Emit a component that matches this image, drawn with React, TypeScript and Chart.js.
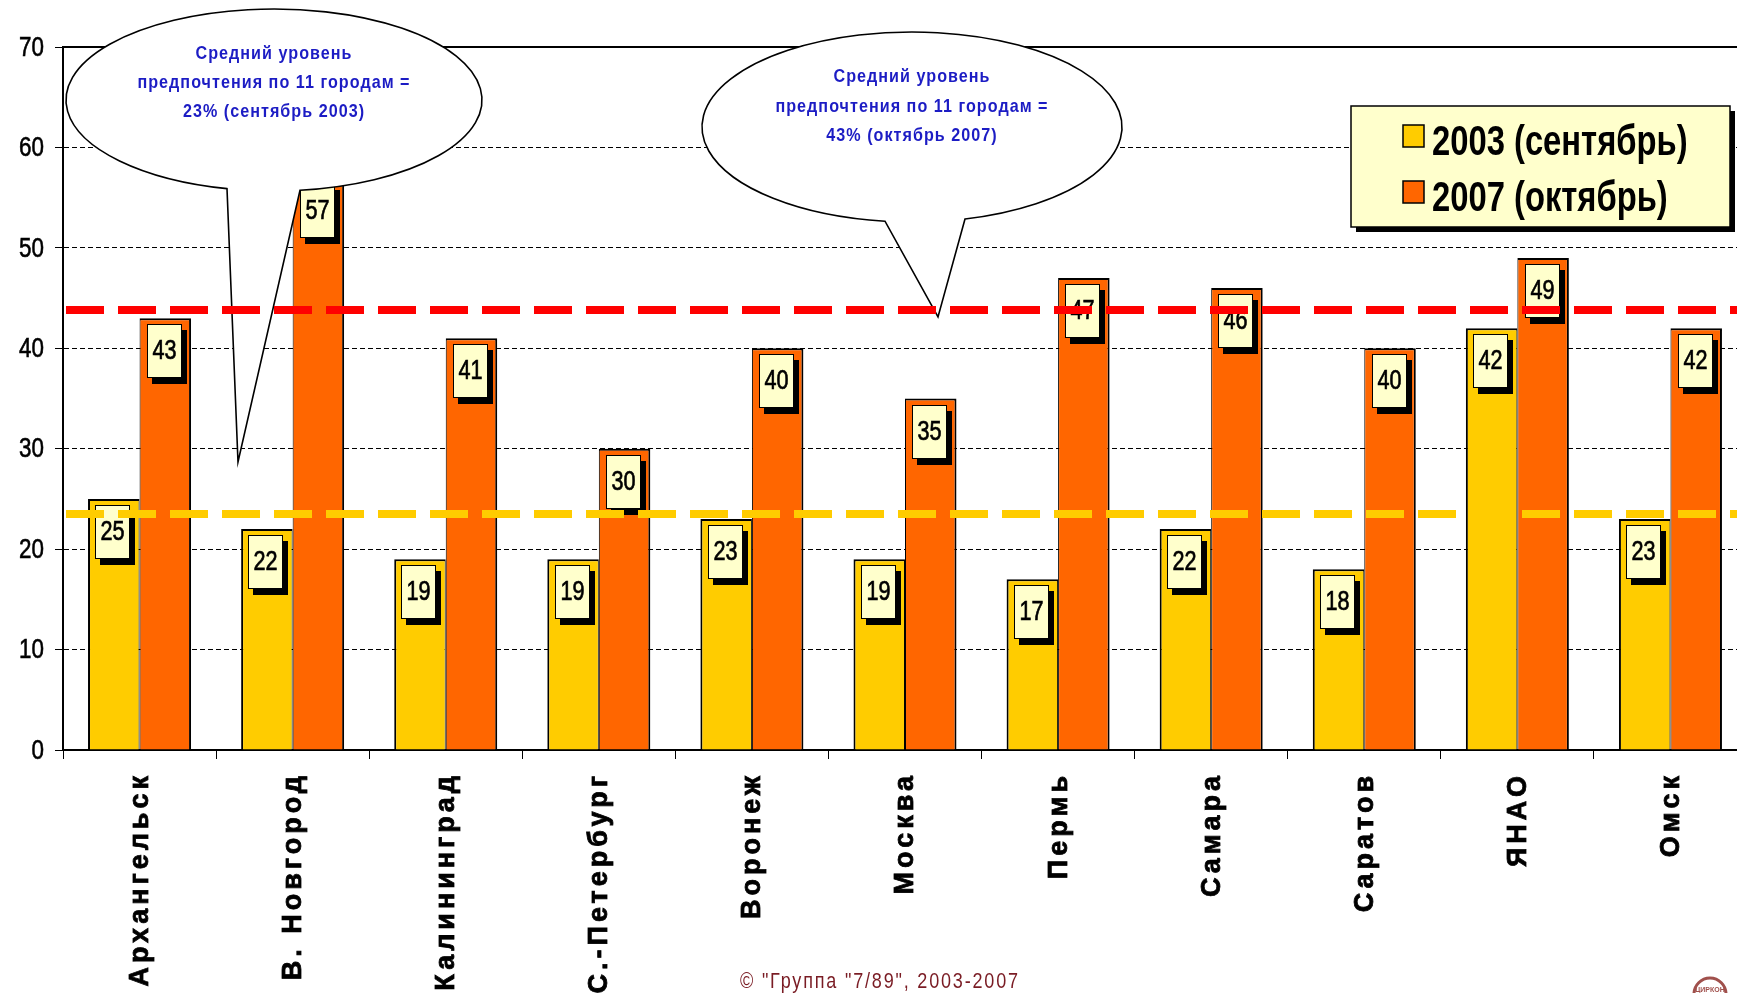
import React, { useEffect, useRef } from 'react';
import { Chart, registerables } from 'chart.js';

Chart.register(...registerables);

// ---- data ----
const cities = [
  'Архангельск',
  'В. Новгород',
  'Калининград',
  'С.-Петербург',
  'Воронеж',
  'Москва',
  'Пермь',
  'Самара',
  'Саратов',
  'ЯНАО',
  'Омск',
];
const sep2003 = [25, 22, 19, 19, 23, 19, 17, 22, 18, 42, 23];
const oct2007 = [43, 57, 41, 30, 40, 35, 47, 46, 40, 49, 42];
const seriesNames = ['2003 (сентябрь)', '2007 (октябрь)'];
const seriesColors = ['#FFCC00', '#FF6600'];
// average-level guide lines (2003, 2007)
const averageLevels = [23.5, 43.8];
const averageColors = ['#FFCC00', '#FF0000'];
const yTickValues = [0, 10, 20, 30, 40, 50, 60, 70];
const calloutTexts = [
  ['Средний уровень', 'предпочтения по 11 городам =', '23% (сентябрь 2003)'],
  ['Средний уровень', 'предпочтения по 11 городам =', '43% (октябрь 2007)'],
];
const copyrightText = '© "Группа "7/89", 2003-2007';

// ---- styling ----
const SANS = '"Liberation Sans", Arial, sans-serif';
const NARROW_X = 0.8; // horizontal squeeze that turns the sans face into a narrow one
const CANVAS_W = 1760;
const CANVAS_H = 993;

// speech-bubble shapes (pixel geometry of the annotations)
const calloutShapes = [
  { cx: 274, cy: 100, rx: 208, ry: 91, baseL: 227, baseR: 300, tipX: 238, tipY: 462, textY: [54, 83, 112] },
  { cx: 912, cy: 127, rx: 210, ry: 95, baseL: 885, baseR: 965, tipX: 938, tipY: 317, textY: [77, 107, 136] },
];

function squeezedText(
  ctx: CanvasRenderingContext2D,
  text: string,
  x: number,
  y: number,
  font: string,
  sx: number,
  align: CanvasTextAlign,
  baseline: CanvasTextBaseline,
  spacing = '0px',
  thicken = 0,
) {
  ctx.save();
  ctx.font = font;
  (ctx as any).letterSpacing = spacing;
  ctx.textAlign = align;
  ctx.textBaseline = baseline;
  ctx.translate(x, y);
  ctx.scale(sx, 1);
  ctx.fillText(text, 0, 0);
  if (thicken > 0) {
    ctx.strokeStyle = ctx.fillStyle;
    ctx.lineWidth = thicken;
    ctx.strokeText(text, 0, 0);
  }
  ctx.restore();
}

function drawCallout(ctx: CanvasRenderingContext2D, shape: any, lines: string[]) {
  const { cx, cy, rx, ry, baseL, baseR, tipX, tipY, textY } = shape;
  const tL = Math.acos((baseL - cx) / rx);
  const tR = Math.acos((baseR - cx) / rx);
  ctx.save();
  ctx.beginPath();
  ctx.ellipse(cx, cy, rx, ry, 0, tR, tL, true);
  ctx.lineTo(tipX, tipY);
  ctx.closePath();
  ctx.fillStyle = '#ffffff';
  ctx.fill();
  ctx.strokeStyle = '#000';
  ctx.lineWidth = 1.6;
  ctx.stroke();
  ctx.fillStyle = '#1c1cc4';
  lines.forEach((t, i) =>
    squeezedText(ctx, t, cx, textY[i], `bold 19px ${SANS}`, 0.85, 'center', 'middle', '1.2px'),
  );
  ctx.restore();
}

const overlayPlugin = {
  id: 'overlay',
  afterDatasetsDraw(chart: any) {
    const { ctx, chartArea, scales } = chart;
    const xs = scales.x;
    const ys = scales.y;

    // y tick labels
    ctx.save();
    ctx.fillStyle = '#000';
    yTickValues.forEach((v) => {
      squeezedText(ctx, String(v), 44, ys.getPixelForValue(v) + 1, `28px ${SANS}`, NARROW_X, 'right', 'middle', '0px', 0.6);
    });
    ctx.restore();

    // value boxes on top of each bar
    chart.data.datasets.forEach((ds: any, di: number) => {
      const meta = chart.getDatasetMeta(di);
      meta.data.forEach((el: any, i: number) => {
        const v = ds.data[i];
        const bw = 35;
        const bh = 54;
        const left = Math.round(el.x - bw / 2 - 1);
        const top = Math.round(el.y + 6);
        ctx.save();
        ctx.fillStyle = '#000';
        ctx.fillRect(left + 5, top + 6, bw, bh);
        ctx.fillStyle = '#FFFFCC';
        ctx.fillRect(left, top, bw, bh);
        ctx.strokeStyle = '#000';
        ctx.lineWidth = 1;
        ctx.strokeRect(left + 0.5, top + 0.5, bw - 1, bh - 1);
        ctx.fillStyle = '#000';
        squeezedText(ctx, String(v), left + bw / 2, top + bh / 2 + 1, `27px ${SANS}`, NARROW_X, 'center', 'middle', '0px', 0.7);
        ctx.restore();
      });
    });

    // solid frame line at the top of the plot
    ctx.save();
    ctx.strokeStyle = '#000';
    ctx.lineWidth = 2;
    ctx.beginPath();
    ctx.moveTo(chartArea.left, chartArea.top);
    ctx.lineTo(chartArea.right, chartArea.top);
    ctx.stroke();
    ctx.restore();

    // speech bubbles
    calloutShapes.forEach((s, i) => drawCallout(ctx, s, calloutTexts[i]));

    // average-level dashed lines
    averageLevels.forEach((v, i) => {
      const py = ys.getPixelForValue(v);
      ctx.save();
      ctx.setLineDash([38, 14]);
      ctx.lineWidth = 8;
      ctx.strokeStyle = averageColors[i];
      ctx.beginPath();
      ctx.moveTo(chartArea.left + 3, py);
      ctx.lineTo(chartArea.right, py);
      ctx.stroke();
      ctx.restore();
    });

    // legend box
    ctx.save();
    const lx = 1351, ly = 106, lw = 379, lh = 121;
    ctx.fillStyle = '#000';
    ctx.fillRect(lx + 5, ly + 5, lw, lh);
    ctx.fillStyle = '#FFFFCC';
    ctx.fillRect(lx, ly, lw, lh);
    ctx.strokeStyle = '#000';
    ctx.lineWidth = 1.5;
    ctx.strokeRect(lx, ly, lw, lh);
    chart.data.datasets.forEach((ds: any, di: number) => {
      const rowY = di === 0 ? 143 : 199;
      ctx.fillStyle = ds.backgroundColor;
      ctx.fillRect(1403, rowY - 18, 21, 22);
      ctx.lineWidth = 1.5;
      ctx.strokeStyle = '#000';
      ctx.strokeRect(1403, rowY - 18, 21, 22);
      ctx.fillStyle = '#000';
      squeezedText(ctx, ds.label, 1432, rowY, `bold 42px ${SANS}`, 0.78, 'left', 'middle');
    });
    ctx.restore();

    // rotated category labels
    ctx.save();
    ctx.fillStyle = '#000';
    ctx.strokeStyle = '#000';
    ctx.lineWidth = 0.8;
    ctx.font = `bold 27px ${SANS}`;
    (ctx as any).letterSpacing = '4px';
    chart.data.labels.forEach((c: string, i: number) => {
      const px = xs.getPixelForValue(i);
      ctx.save();
      ctx.translate(px + 1, 776);
      ctx.rotate(-Math.PI / 2);
      ctx.textAlign = 'right';
      ctx.textBaseline = 'middle';
      ctx.fillText(c, 4, 0);
      ctx.strokeText(c, 4, 0);
      ctx.restore();
    });
    ctx.restore();

    // copyright line
    ctx.save();
    ctx.fillStyle = '#7a1c24';
    squeezedText(ctx, copyrightText, 740, 988, `22px ${SANS}`, 0.82, 'left', 'alphabetic', '2.2px');
    ctx.restore();

    // small round emblem in the corner
    ctx.save();
    ctx.strokeStyle = '#a0504c';
    ctx.lineWidth = 3;
    ctx.beginPath();
    ctx.arc(1710, 994, 16, 0, Math.PI * 2);
    ctx.stroke();
    ctx.fillStyle = '#a0504c';
    ctx.font = `bold 7px ${SANS}`;
    ctx.textAlign = 'center';
    ctx.textBaseline = 'middle';
    ctx.fillText('ЦИРКОН', 1710, 990);
    ctx.restore();
  },
};

export default function App() {
  const canvasRef = useRef<HTMLCanvasElement | null>(null);

  useEffect(() => {
    const canvas = canvasRef.current;
    if (!canvas) return;
    const chart = new Chart(canvas, {
      type: 'bar',
      data: {
        labels: cities,
        datasets: [
          {
            label: seriesNames[0],
            data: sep2003,
            backgroundColor: seriesColors[0],
            borderColor: '#000',
            borderWidth: { top: 2, left: 2, right: 1, bottom: 0 },
            borderSkipped: 'start',
            categoryPercentage: 0.673,
            barPercentage: 1,
          },
          {
            label: seriesNames[1],
            data: oct2007,
            backgroundColor: seriesColors[1],
            borderColor: '#000',
            borderWidth: { top: 2, left: 1, right: 2, bottom: 0 },
            borderSkipped: 'start',
            categoryPercentage: 0.673,
            barPercentage: 1,
          },
        ],
      },
      options: {
        responsive: false,
        animation: false,
        devicePixelRatio: 1,
        layout: { padding: { top: 47, right: 13, left: 0, bottom: 0 } },
        plugins: {
          legend: { display: false },
          tooltip: { enabled: false },
          title: { display: false },
        },
        scales: {
          x: {
            type: 'category',
            offset: true,
            grid: {
              offset: true,
              drawOnChartArea: false,
              drawTicks: true,
              tickLength: 9,
              color: '#000',
              lineWidth: 1,
            },
            border: { display: true, color: '#000', width: 2 },
            ticks: { display: false },
            afterFit: (s: any) => {
              s.height = 243;
            },
          },
          y: {
            min: yTickValues[0],
            max: yTickValues[yTickValues.length - 1],
            afterBuildTicks: (s: any) => {
              s.ticks = yTickValues.map((v) => ({ value: v }));
            },
            ticks: { display: false },
            grid: { color: '#000', lineWidth: 1, tickLength: 8, drawTicks: true },
            border: { color: '#000', width: 2, dash: [5, 3] },
            afterFit: (s: any) => {
              s.width = 63;
            },
          },
        },
      },
      plugins: [overlayPlugin],
    } as any);
    return () => chart.destroy();
  }, []);

  return (
    <div
      style={{
        position: 'fixed',
        left: 0,
        top: 0,
        width: 1737,
        height: 993,
        overflow: 'hidden',
        background: '#fff',
      }}
    >
      <canvas ref={canvasRef} width={CANVAS_W} height={CANVAS_H} style={{ display: 'block' }} />
    </div>
  );
}
